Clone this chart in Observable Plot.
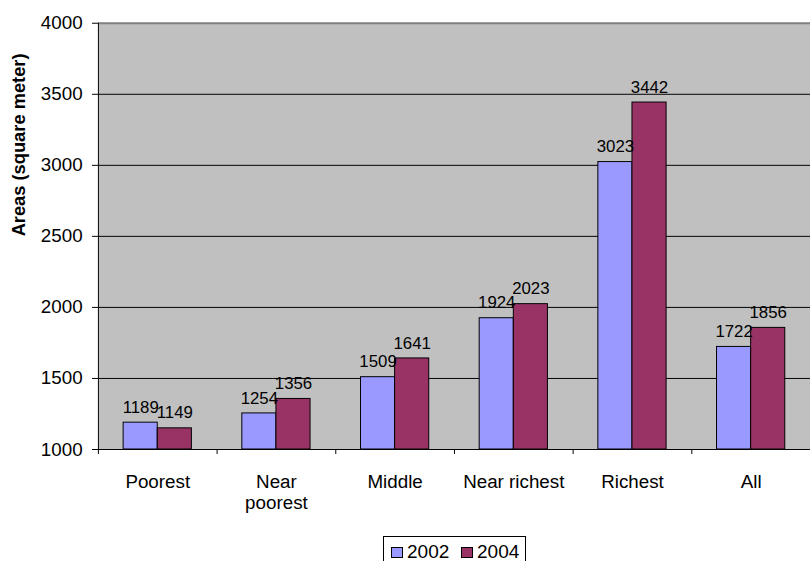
<!DOCTYPE html>
<html>
<head>
<meta charset="utf-8">
<script src="https://cdn.jsdelivr.net/npm/d3@7"></script>
<script src="https://cdn.jsdelivr.net/npm/@observablehq/plot@0.6"></script>
<style>
  body { margin: 0; background: #fff; }
  #chart { position: relative; width: 810px; height: 561px; overflow: hidden; font-family: "Liberation Sans", Arial, sans-serif; }
  #chart svg { display: block; }
  #legend { position: absolute; left: 383px; top: 536px; width: 143px; height: 26px; border: 1px solid #000; border-bottom: none;
            background: #fff; box-sizing: border-box; font-size: 19px; line-height: 19px; }
  .swatch { position: absolute; top: 10px; width: 10px; height: 9px; border: 1px solid #000; }
  .lbl { position: absolute; top: 5px; }
</style>
</head>
<body>
<div id="chart"></div>
<script>
// Average residential area by wealth group, 2002 vs 2004
const groups = ["Poorest", "Near\npoorest", "Middle", "Near richest", "Richest", "All"];
const years = ["2002", "2004"];
const areas2002 = [1189, 1254, 1509, 1924, 3023, 1722];
const areas2004 = [1149, 1356, 1641, 2023, 3442, 1856];
const yTicks = [1000, 1500, 2000, 2500, 3000, 3500, 4000];
const colors = ["#9999ff", "#993366"];

const rows2002 = groups.map((g, i) => ({group: g, year: years[0], value: areas2002[i]}));
const rows2004 = groups.map((g, i) => ({group: g, year: years[1], value: areas2004[i]}));

const halfBar = 17.25;

const chart = Plot.plot({
  width: 819,
  height: 530,
  marginLeft: 99,
  marginRight: 0,
  marginTop: 23,
  marginBottom: 76,
  style: {fontFamily: "Liberation Sans, Arial, sans-serif", fontSize: "19px", color: "#000", background: "transparent"},
  x: {domain: groups, padding: 0, label: null},
  y: {domain: [1000, 4000], label: null},
  marks: [
    Plot.frame({fill: "#c0c0c0", stroke: null}),
    Plot.ruleY(yTicks.filter(v => v > 1000 && v < 4000), {stroke: "#000", strokeWidth: 1}),
    Plot.ruleY([4000], {stroke: "#808080", strokeWidth: 2}),
    Plot.barY(rows2002, {x: "group", y1: 1000, y2: "value", fill: colors[0], stroke: "#000", strokeWidth: 1,
      insetLeft: 25.5, insetRight: 60}),
    Plot.barY(rows2004, {x: "group", y1: 1000, y2: "value", fill: colors[1], stroke: "#000", strokeWidth: 1,
      insetLeft: 60, insetRight: 25.5}),
    Plot.text(rows2002, {x: "group", y: "value", text: d => String(d.value), dx: -halfBar, dy: -10,
      lineAnchor: "bottom", fontSize: 17, fill: "#000"}),
    Plot.text(rows2004, {x: "group", y: "value", text: d => String(d.value), dx: halfBar, dy: -10,
      lineAnchor: "bottom", fontSize: 17, fill: "#000"}),
    Plot.ruleY([1000], {stroke: "#000", strokeWidth: 1}),
    Plot.ruleX([groups[0]], {dx: -60, stroke: "#000", strokeWidth: 1}),
    Plot.axisY({ticks: yTicks, tickSize: 6, tickPadding: 10, tickFormat: d => String(d), label: null}),
    Plot.axisX({tickSize: 5, dx: -60, tickFormat: () => "", label: null}),
    Plot.axisX({tickSize: 0, tickPadding: 23, lineHeight: 1.158, label: null}),
    Plot.text(["Areas (square meter)"], {frameAnchor: "left", rotate: -90, dx: -80, fontWeight: "bold", fontSize: 18.5, fill: "#000"})
  ]
});

const root = document.getElementById("chart");
root.appendChild(chart);

// Legend below the plot
const legend = document.createElement("div");
legend.id = "legend";
const swatchLeft = [7, 77];
const labelLeft = [23, 93];
years.forEach((y, i) => {
  const sw = document.createElement("span");
  sw.className = "swatch";
  sw.style.left = swatchLeft[i] + "px";
  sw.style.background = colors[i];
  const label = document.createElement("span");
  label.className = "lbl";
  label.style.left = labelLeft[i] + "px";
  label.textContent = y;
  legend.appendChild(sw);
  legend.appendChild(label);
});
root.appendChild(legend);
</script>
</body>
</html>
